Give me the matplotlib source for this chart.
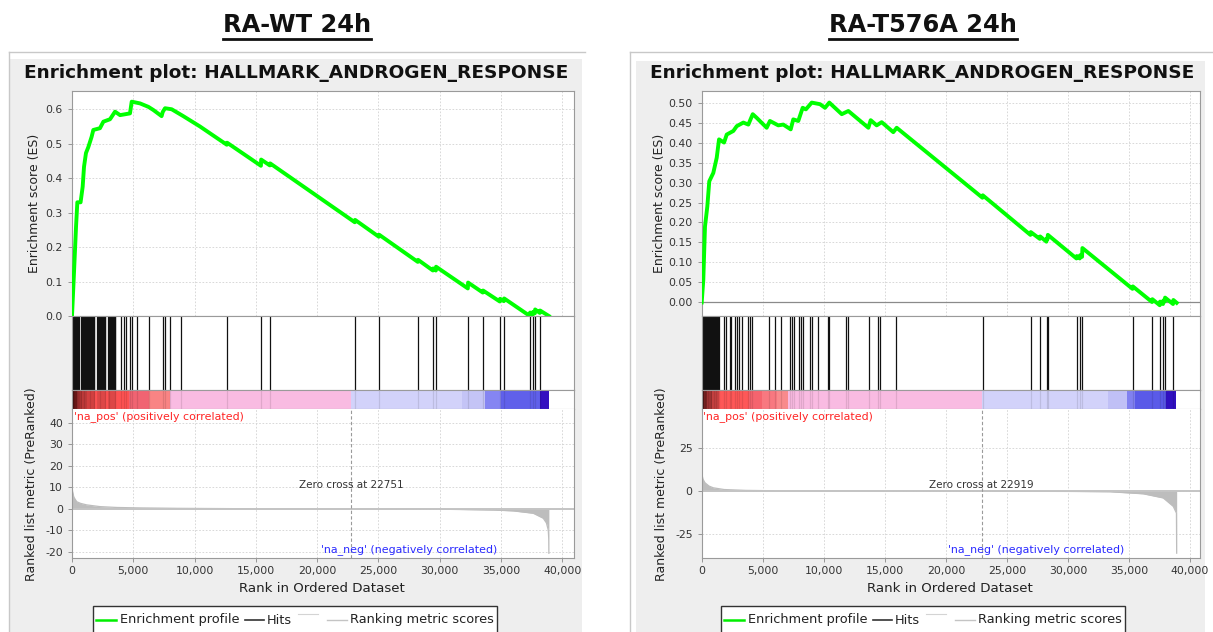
import matplotlib
matplotlib.use("Agg")
import matplotlib.pyplot as plt
import matplotlib.transforms as mtransforms
from matplotlib.patches import Rectangle
from matplotlib.lines import Line2D
from matplotlib.ticker import FuncFormatter

plt.rcParams['font.family'] = ['DejaVu Sans']
plt.rcParams['axes.unicode_minus'] = False

W, H, DPI = 1213, 632, 100

# ------------------------------------------------------------------ data
panel_titles = ["RA-WT 24h", "RA-T576A 24h"]
gene_set = "HALLMARK_ANDROGEN_RESPONSE"
zero_cross = [22751, 22919]
pos_label = "'na_pos' (positively correlated)"
neg_label = "'na_neg' (negatively correlated)"
legend_labels = ["Enrichment profile", "Hits", "Ranking metric scores"]

x_ticks = [0, 5000, 10000, 15000, 20000, 25000, 30000, 35000, 40000]
wt_es_ticks = [0.0, 0.1, 0.2, 0.3, 0.4, 0.5, 0.6]
t576a_es_ticks = [0.00, 0.05, 0.10, 0.15, 0.20, 0.25, 0.30, 0.35, 0.40, 0.45, 0.50]
wt_metric_ticks = [-20, -10, 0, 10, 20, 30, 40]
t576a_metric_ticks = [-25, 0, 25]

# running enrichment score, RA-WT
wt_es_rank = [0, 160, 330, 435, 700, 870, 980, 1140, 1330, 1600, 1740, 2280, 2560,
              3100, 3510, 3920, 4730, 4870, 5550, 6230, 6630, 7310, 7400, 7590,
              8130, 9080, 10440, 12630, 12650, 15410, 15430, 16140, 16160, 23070,
              23090, 25030, 25050, 28210, 28230, 29440, 29460, 29680, 29700, 32290,
              32310, 33510, 33530, 34900, 34920, 35230, 35250, 37350, 37370, 37590,
              37610, 37760, 37780, 38160, 38180, 38900]
wt_es = [0.0, 0.124, 0.26, 0.33, 0.33, 0.375, 0.433, 0.473, 0.49, 0.52, 0.54, 0.545, 0.564,
         0.571, 0.593, 0.583, 0.588, 0.622, 0.617, 0.607, 0.598, 0.58, 0.592, 0.603,
         0.600, 0.58, 0.55, 0.497, 0.503, 0.436, 0.454, 0.437, 0.443, 0.272,
         0.279, 0.230, 0.236, 0.157, 0.163, 0.132, 0.138, 0.132, 0.143, 0.080,
         0.097, 0.068, 0.074, 0.042, 0.050, 0.043, 0.051, 0.0, 0.010, 0.004,
         0.012, 0.008, 0.019, 0.009, 0.016, 0.0]

# running enrichment score, RA-T576A
t576a_es_rank = [0, 130, 270, 460, 620, 950, 1230, 1420, 1830, 2050, 2590, 2870, 3410,
                 3820, 4180, 4500, 5320, 5590, 6270, 6680, 7290, 7500, 7910, 8270, 8530,
                 9010, 9690, 10100, 10450, 11470, 12010, 13650, 13840, 14330, 14740,
                 15690, 15970, 22990, 23020, 26920, 26950, 27690, 27720, 28230, 28260,
                 28320, 28350, 30690, 30720, 30960, 30990, 31150, 31180, 35280, 35310,
                 36880, 36910, 37510, 37540, 37780, 37810, 37920, 37950, 38600, 38630, 38900]
t576a_es = [0.0, 0.056, 0.19, 0.24, 0.303, 0.324, 0.362, 0.408, 0.40, 0.42, 0.429, 0.441, 0.45,
            0.445, 0.471, 0.462, 0.437, 0.454, 0.443, 0.445, 0.433, 0.458, 0.454, 0.487, 0.483,
            0.50, 0.496, 0.487, 0.50, 0.471, 0.479, 0.437, 0.456, 0.443, 0.451,
            0.426, 0.437, 0.262, 0.268, 0.169, 0.176, 0.159, 0.165, 0.152, 0.160,
            0.158, 0.169, 0.110, 0.116, 0.110, 0.118, 0.114, 0.136, 0.034, 0.040,
            0.001, 0.008, -0.007, 0.002, -0.004, 0.005, 0.002, 0.012, -0.004, 0.006, -0.001]

# gene-set member positions in the ranked list
wt_hits = [10, 70, 130, 190, 250, 310, 370, 430, 490, 540,
           730, 800, 870, 940, 1010, 1080, 1140,
           1220, 1290, 1360, 1430, 1500, 1570, 1640, 1710, 1780, 1820,
           2040, 2110, 2180, 2250, 2320, 2390, 2460, 2530, 2600, 2670, 2720,
           2910, 2980, 3050, 3120, 3190, 3260, 3330, 3400, 3470, 3530,
           4020, 4210, 4430, 4760, 4890, 5300, 6310, 7400, 7610, 8020, 8890,
           12640, 15420, 16150, 23080, 25040, 28220, 29450, 29690, 32300, 33520,
           34910, 35240, 37360, 37600, 37770, 38170]
t576a_hits = [10, 70, 130, 190, 250, 310, 370, 430, 490, 550, 610, 670, 730, 790,
              850, 910, 970, 1030, 1090, 1150, 1210, 1270, 1330, 1390,
              1850, 2020, 2290, 2430, 2760, 2890, 3030, 3300, 3790, 3980, 4120,
              5490, 6030, 6520, 7260, 7400, 7530, 8000, 8130, 8300, 8900, 9030,
              9530, 10320, 10430, 11820, 12010, 13700, 14410, 14600, 15910,
              23010, 26940, 27710, 28250, 28340, 30710, 30980, 31170, 35300,
              36900, 37530, 37800, 37940, 38620]

# ranked list metric
wt_metric_rank = [0, 50, 150, 380, 700, 1200, 2280, 3670, 5500, 8650, 15000, 22751,
                  30000, 34450, 36000, 37630, 38440, 38700, 38850, 38890, 38900]
wt_metric = [10.4, 8.0, 5.5, 3.4, 2.6, 1.9, 1.1, 0.7, 0.5, 0.3, 0.1, 0.0,
             -0.1, -0.5, -0.9, -2.0, -4.3, -6.5, -9.8, -14.0, -20.6]
t576a_metric_rank = [0, 100, 270, 600, 950, 1830, 3600, 7000, 15000, 22919,
                     30000, 33440, 36170, 37800, 38620, 38880, 38900]
t576a_metric = [10.8, 7.0, 4.9, 3.0, 2.0, 1.0, 0.5, 0.2, 0.1, 0.0,
                -0.1, -0.3, -1.5, -3.9, -8.8, -12.7, -36.0]

# heat strip under the hits (segment edges along the ranked list and their colours)
wt_bar_edges = [0, 200, 410, 820, 1220, 1900, 4620, 6250, 8020, 22751, 31800,
                33700, 35000, 38200, 38900]
wt_bar_colors = ['#4e1010', '#7a1c1c', '#b03434', '#d84242', '#f04a4a', '#fd5252',
                 '#f06472', '#f98484', '#f9bbe2', '#d2d2fa', '#c4c4f6', '#8585f2',
                 '#6060ea', '#3510c0']
t576a_bar_edges = [0, 200, 430, 840, 1390, 3850, 4940, 6170, 7090, 22919, 33250,
                   34860, 35490, 38030, 38820]
t576a_bar_colors = ['#5a1414', '#8a2828', '#b83c3c', '#e24a4a', '#fe5858', '#f5646e',
                    '#f87880', '#f98a8c', '#f9bbe2', '#d2d2fa', '#c0c0f6', '#8080f0',
                    '#5a5ae8', '#3010c0']

panels = [
    dict(title=panel_titles[0], x0=72, x1=574, xmax=40950,
         es_rank=wt_es_rank, es=wt_es, es_ticks=wt_es_ticks, es_fmt="{:.1f}",
         es_lim=(0.0, 0.653), hits=wt_hits,
         m_rank=wt_metric_rank, metric=wt_metric, m_ticks=wt_metric_ticks,
         m_lim=(-22.8, 46.5), zc=zero_cross[0],
         bar_edges=wt_bar_edges, bar_colors=wt_bar_colors,
         frame=(9, 585, 10, 582, 59), legend_x=93, title_x=296.5,
         es_label_x=35, m_label_x=32),
    dict(title=panel_titles[1], x0=701.7, x1=1200, xmax=40810,
         es_rank=t576a_es_rank, es=t576a_es, es_ticks=t576a_es_ticks, es_fmt="{:.2f}",
         es_lim=(-0.034, 0.529), hits=t576a_hits,
         m_rank=t576a_metric_rank, metric=t576a_metric, m_ticks=t576a_metric_ticks,
         m_lim=(-38.8, 47.8), zc=zero_cross[1],
         bar_edges=t576a_bar_edges, bar_colors=t576a_bar_colors,
         frame=(630, 1213, 636, 1205, 61), legend_x=721, title_x=922.5,
         es_label_x=659, m_label_x=661.5),
]

# ------------------------------------------------------------------ figure
fig = plt.figure(figsize=(W / DPI, H / DPI), dpi=DPI)
fig.patch.set_facecolor('white')


def fx(x):
    return x / W


def fy(y):
    return 1 - y / H


def add_axes_px(x0, y0, x1, y1):
    return fig.add_axes([fx(x0), fy(y1), (x1 - x0) / W, (y1 - y0) / H])


SPINE = '#9a9a9a'
GRID = dict(color='#d2d2d2', lw=0.6, ls=(0, (2, 2)))
TICK_KW = dict(labelsize=7.8, labelcolor='#333333', color='#888888', length=3, width=0.6)
ES_TOP, HIT_TOP, BAR_TOP, BAR_BOT, M_BOT = 91, 316, 390, 409, 558

for p in panels:
    fl, fr, gl, gr, gt = p['frame']
    # gray panel background with a thin frame line
    fig.add_artist(Rectangle((fx(gl), 0), fx(gr) - fx(gl), fy(gt), transform=fig.transFigure,
                             facecolor='#eeeeee', edgecolor='none', zorder=-2))
    fig.add_artist(Line2D([fx(fl), fx(fr)], [fy(52), fy(52)], transform=fig.transFigure,
                          color='#c8c8c8', lw=1, zorder=-1))
    fig.add_artist(Line2D([fx(fl), fx(fl)], [fy(52), 0], transform=fig.transFigure,
                          color='#c8c8c8', lw=1, zorder=-1))

    cx = (p['x0'] + p['x1']) / 2
    fig.text(fx(p['title_x']), fy(73.5), "Enrichment plot: " + gene_set, ha='center',
             va='center', fontsize=13.3, fontweight='bold', color='#111111')

    # --- enrichment score
    ax = add_axes_px(p['x0'], ES_TOP, p['x1'], HIT_TOP)
    ax.plot(p['es_rank'], p['es'], color='#00ff00', lw=2.8, solid_joinstyle='round', zorder=3)
    ax.set_xlim(0, p['xmax'])
    ax.set_ylim(*p['es_lim'])
    ax.set_xticks(x_ticks)
    ax.set_yticks(p['es_ticks'])
    ax.yaxis.set_major_formatter(FuncFormatter(lambda v, _, f=p['es_fmt']: f.format(v)))
    ax.tick_params(axis='x', length=0, labelbottom=False)
    ax.tick_params(axis='y', **TICK_KW)
    ax.grid(True, **GRID)
    ax.set_axisbelow(True)
    if p['es_lim'][0] < 0:
        ax.axhline(0, color='#8a8a8a', lw=0.9, zorder=2)
    for s in ax.spines.values():
        s.set_color(SPINE)
        s.set_linewidth(0.8)

    # --- hits
    axh = add_axes_px(p['x0'], HIT_TOP, p['x1'], BAR_TOP)
    axh.vlines(p['hits'], 0, 1, color='#111111', lw=0.9)
    axh.set_xlim(0, p['xmax'])
    axh.set_ylim(0, 1)
    axh.set_xticks([])
    axh.set_yticks([])
    for s in axh.spines.values():
        s.set_color(SPINE)
        s.set_linewidth(0.8)

    # --- heat strip
    axb = add_axes_px(p['x0'], BAR_TOP, p['x1'], BAR_BOT)
    edges, cols = p['bar_edges'], p['bar_colors']
    for a, b, c in zip(edges[:-1], edges[1:], cols):
        axb.axvspan(a, b, color=c, lw=0)
    axb.vlines(p['hits'], 0, 1, color='black', lw=0.9, alpha=0.10)
    axb.set_xlim(0, p['xmax'])
    axb.set_ylim(0, 1)
    axb.set_xticks([])
    axb.set_yticks([])
    for s in axb.spines.values():
        s.set_color(SPINE)
        s.set_linewidth(0.8)

    # --- ranked list metric
    axm = add_axes_px(p['x0'], BAR_BOT, p['x1'], M_BOT)
    axm.fill_between(p['m_rank'], p['metric'], 0, color='#bdbdbd', lw=0, zorder=2)
    axm.plot(p['m_rank'], p['metric'], color='#bdbdbd', lw=0.9, zorder=2)
    axm.axhline(0, color='#c4c4c4', lw=1.4, zorder=2)
    axm.axvline(p['zc'], color='#9a9a9a', lw=0.8, ls=(0, (3, 2)), zorder=2)
    axm.set_xlim(0, p['xmax'])
    axm.set_ylim(*p['m_lim'])
    axm.set_xticks(x_ticks)
    axm.set_yticks(p['m_ticks'])
    axm.xaxis.set_major_formatter(FuncFormatter(lambda v, _: "{:,}".format(int(v))))
    axm.tick_params(axis='both', **TICK_KW)
    axm.tick_params(axis='x', pad=2.5)
    axm.grid(True, **GRID)
    axm.set_axisbelow(True)
    for s in axm.spines.values():
        s.set_color(SPINE)
        s.set_linewidth(0.8)
    axm.spines['top'].set_visible(False)

    blend = mtransforms.blended_transform_factory(axm.transData, axm.transAxes)
    axm.text(p['zc'], 0.49, "Zero cross at {}".format(p['zc']), transform=blend,
             ha='center', va='center', fontsize=7.5, color='#333333')
    axm.text(0.003, 0.946, pos_label, transform=axm.transAxes, ha='left', va='center',
             fontsize=7.9, color='#ff2424', clip_on=False)
    axm.text(0.672, 0.06, neg_label, transform=axm.transAxes, ha='center', va='center',
             fontsize=7.9, color='#2a2aff')

    # axis titles
    fig.text(fx(p['es_label_x']), fy(203), "Enrichment score (ES)", rotation=90,
             ha='center', va='center', fontsize=9, color='#222222')
    fig.text(fx(p['m_label_x']), fy(484), "Ranked list metric (PreRanked)", rotation=90,
             ha='center', va='center', fontsize=9, color='#222222')
    fig.text(fx(cx - 1), fy(588), "Rank in Ordered Dataset", ha='center', va='center',
             fontsize=9.6, color='#222222')

    # legend
    L = p['legend_x']
    fig.add_artist(Rectangle((fx(L), fy(640)), (404) / W, (640 - 606) / H,
                             transform=fig.transFigure, facecolor='white',
                             edgecolor='#333333', lw=1.0, zorder=1))
    ly = fy(620)

    def seg(x0, x1, y, color, lw):
        fig.add_artist(Line2D([fx(L + x0), fx(L + x1)], [y, y], transform=fig.transFigure,
                              color=color, lw=lw, zorder=2))

    seg(3, 23, ly, '#00ee00', 1.8)
    fig.text(fx(L + 27), ly, legend_labels[0], ha='left', va='center', fontsize=9.3,
             color='#222222', zorder=2)
    seg(152, 171, ly, '#333333', 1.2)
    fig.text(fx(L + 174), ly, legend_labels[1], ha='left', va='center', fontsize=9.3,
             color='#222222', zorder=2)
    seg(205, 225, fy(614), '#d4d4d4', 0.8)
    seg(234, 254, ly, '#c4c4c4', 1.0)
    fig.text(fx(L + 257), ly, legend_labels[2], ha='left', va='center', fontsize=9.3,
             color='#222222', zorder=2)

# underlined condition titles
title_centers = [297, 923]
titles = []
for t, c in zip(panel_titles, title_centers):
    titles.append(fig.text(fx(c), fy(25), t, ha='center', va='center', fontsize=17.4,
                           fontweight='bold', color='#111111'))
fig.canvas.draw()
renderer = fig.canvas.get_renderer()
for t in titles:
    bb = t.get_window_extent(renderer)
    fig.add_artist(Line2D([bb.x0 / W, bb.x1 / W], [fy(38.5), fy(38.5)],
                          transform=fig.transFigure, color='#111111', lw=2.0))

fig.savefig("out.png", dpi=DPI)
